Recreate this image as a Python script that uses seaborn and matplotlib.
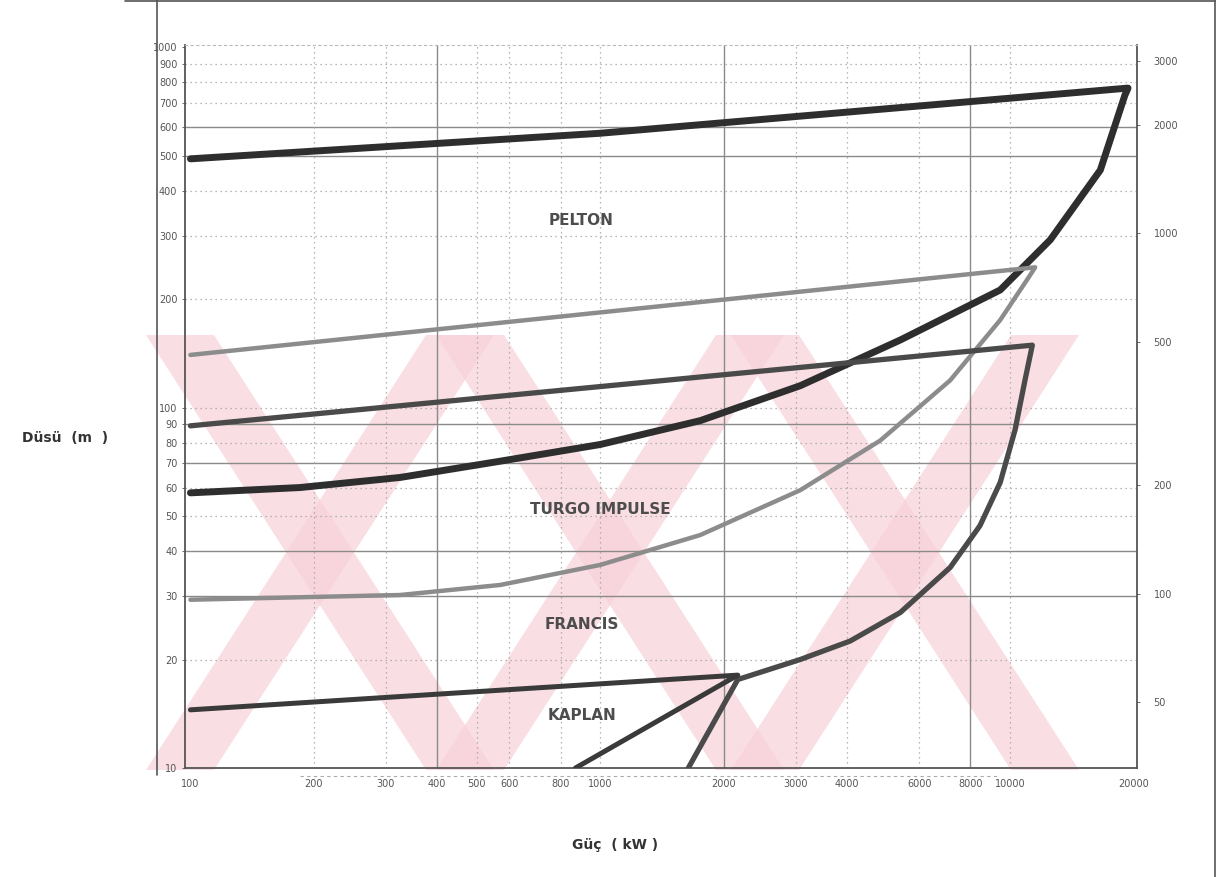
import numpy as np
import pandas as pd
import matplotlib
matplotlib.use("Agg")
import matplotlib.pyplot as plt
from matplotlib.patches import Polygon
from matplotlib.lines import Line2D
from matplotlib.ticker import NullLocator, FixedLocator
import seaborn as sns

sns.set_style("white")
plt.rcParams["font.family"] = ["DejaVu Sans"]

# Application range outlines: power (kW) vs. head (m)
pelton_kw = [100, 1000, 19400, 19060, 16600, 12530, 9460, 5395, 3076, 1754, 1000, 570, 325, 185, 100]
pelton_m = [490, 577, 770, 736, 456, 292, 212, 154, 115, 92, 79, 71, 64, 60, 58]

turgo_kw = [100, 11510, 11190, 9460, 7140, 4820, 3076, 1754, 1000, 570, 325, 100]
turgo_m = [140, 245, 233, 175, 119, 81, 59, 44.3, 36.6, 32.2, 30.2, 29.3]

francis_kw = [100, 11330, 10870, 10280, 9460, 8440, 7140, 5395, 4070, 3076, 2165, 1640]
francis_m = [89, 149, 119, 86.6, 62, 47, 36, 27, 22.5, 20, 17.6, 10]

kaplan_kw = [100, 2165, 870]
kaplan_m = [14.5, 18.1, 10]

region_names = ["PELTON", "TURGO IMPULSE", "FRANCIS", "KAPLAN"]
region_kw = [900, 1000, 900, 900]
region_m = [330, 52, 25, 14]

x_ticks = [100, 200, 300, 400, 500, 600, 800, 1000, 2000, 3000, 4000, 6000, 8000, 10000, 20000]
y_ticks = [10, 20, 30, 40, 50, 60, 70, 80, 90, 100, 200, 300, 400, 500, 600, 700, 800, 900, 1000]
ft_ticks = [50, 100, 200, 500, 1000, 2000, 3000]
M_TO_FT = 3.2808

W, H = 1230, 877
fig = plt.figure(figsize=(W / 100, H / 100), dpi=100)
ax = fig.add_axes([185 / W, 1 - 768 / H, (1137 - 185) / W, (768 - 45) / H])
ax.set_zorder(2)


def fx(px):
    return px / W


def fy(py):
    return 1 - py / H


# faint pink diagonal watermark bands behind the chart
pink = "#f8d3da"
for cx in [320, 610, 905]:
    for sgn in (1, -1):
        x0, x1 = cx - sgn * 140, cx + sgn * 140
        hw = 34
        poly = Polygon([(fx(x0 - hw), fy(335)), (fx(x0 + hw), fy(335)),
                        (fx(x1 + hw), fy(770)), (fx(x1 - hw), fy(770))],
                       closed=True, transform=fig.transFigure, facecolor=pink,
                       edgecolor="none", alpha=0.75, zorder=-1)
        fig.patches.append(poly)
ax.set_facecolor("none")

ax.set_xscale("log")
ax.set_yscale("log")
ax.set_xlim(97, 20400)
ax.set_ylim(10, 1014)

# grid lines at selected tick values
solid_h = [600, 500, 90, 70, 40, 30]
dotted_h = [900, 800, 700, 400, 300, 200, 100, 80, 60, 50, 20]
for v in solid_h:
    ax.axhline(v, color="#8a8a8a", lw=1.0, zorder=1)
for v in dotted_h:
    ax.axhline(v, color="#a0a0a0", lw=0.9, ls=(0, (1, 3)), zorder=1)
solid_v = [400, 2000, 8000]
dotted_v = [200, 300, 500, 600, 800, 1000, 3000, 4000, 6000, 10000]
for v in solid_v:
    ax.axvline(v, color="#8a8a8a", lw=1.0, zorder=1)
for v in dotted_v:
    ax.axvline(v, color="#a0a0a0", lw=0.9, ls=(0, (1, 3)), zorder=1)

curves = [
    (pelton_kw, pelton_m, "#2e2e2e", 5.0),
    (turgo_kw, turgo_m, "#8c8c8c", 3.2),
    (francis_kw, francis_m, "#4a4a4a", 3.8),
    (kaplan_kw, kaplan_m, "#3a3a3a", 3.6),
]
for kw, m, col, lw in curves:
    df = pd.DataFrame({"kW": kw, "m": m})
    sns.lineplot(data=df, x="kW", y="m", sort=False, estimator=None,
                 color=col, lw=lw, ax=ax, zorder=3, solid_capstyle="round",
                 solid_joinstyle="round")

for name, xk, ym in zip(region_names, region_kw, region_m):
    ax.text(xk, ym, name, ha="center", va="center", fontsize=11,
            fontweight="bold", color="#4d4d4d", zorder=4)

ax.xaxis.set_major_locator(FixedLocator(x_ticks))
ax.xaxis.set_minor_locator(NullLocator())
ax.set_xticklabels([str(v) for v in x_ticks])
ax.yaxis.set_major_locator(FixedLocator(y_ticks))
ax.yaxis.set_minor_locator(NullLocator())
ax.set_yticklabels([str(v) for v in y_ticks])
ax.tick_params(axis="both", labelsize=7, colors="#555555", length=2, width=0.6)
ax.tick_params(axis="x", pad=6)
ax.set_xlabel("")
ax.set_ylabel("")

for side in ["left", "right", "bottom"]:
    ax.spines[side].set_color("#555555")
    ax.spines[side].set_linewidth(1.3)
ax.spines["top"].set_color("#bbbbbb")
ax.spines["top"].set_linewidth(0.8)
ax.spines["top"].set_linestyle((0, (2, 3)))

ax2 = ax.twinx()
ax2.set_yscale("log")
ax2.set_ylim(10 * M_TO_FT, 1014 * M_TO_FT)
ax2.yaxis.set_major_locator(FixedLocator(ft_ticks))
ax2.yaxis.set_minor_locator(NullLocator())
ax2.set_yticklabels([str(v) for v in ft_ticks])
ax2.tick_params(axis="y", labelsize=7, colors="#555555", length=2, width=0.6, pad=10)
ax2.set_zorder(2)
for s in ax2.spines.values():
    s.set_visible(False)

fig.text(fx(65), fy(438), "Düsü  (m  )", ha="center", va="center",
         fontsize=10, fontweight="bold", color="#333333")
fig.text(fx(615), fy(845), "Güç  ( kW )", ha="center", va="center",
         fontsize=10, fontweight="bold", color="#333333")

# scanned page border
border = dict(transform=fig.transFigure, color="#555555", lw=1.2)
fig.lines.append(Line2D([fx(157), fx(157)], [fy(0), fy(775)], **border))
fig.lines.append(Line2D([fx(1215), fx(1215)], [fy(0), fy(877)], **border))
fig.lines.append(Line2D([fx(125), fx(1215)], [fy(1), fy(1)], **border))
fig.lines.append(Line2D([fx(300), fx(1000)], [fy(776), fy(776)],
                        transform=fig.transFigure, color="#aaaaaa", lw=0.8,
                        ls=(0, (3, 3))))

fig.savefig("out.png", dpi=100)
